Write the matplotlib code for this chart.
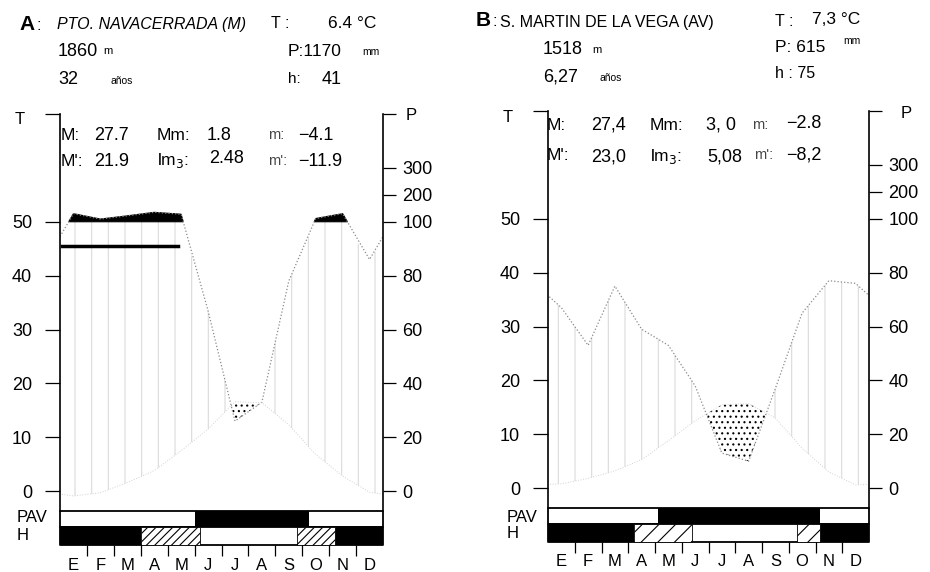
import numpy as np
import matplotlib.pyplot as plt

plt.rcParams['font.family'] = ['Liberation Sans', 'DejaVu Sans']
plt.rcParams['hatch.linewidth'] = 0.8

W, H = 930, 572

meses = ['E', 'F', 'M', 'A', 'M', 'J', 'J', 'A', 'S', 'O', 'N', 'D']

temp_a = [-0.9, -0.3, 1.6, 3.8, 7.5, 11.5, 16.6, 16.4, 12.3, 6.8, 2.8, -0.2]
prec_a = [130, 110, 122, 135, 128, 67, 26, 33, 78, 112, 130, 86]
pav_a = [(5.0, 9.25)]
helada_segura_a = [(0.0, 3.0), (10.2, 12.0)]
helada_prob_a = [(3.0, 5.2), (8.8, 10.2)]

# B: S. Martin de la Vega
temp_b = [0.8, 1.8, 3.2, 5.3, 8.8, 12.5, 15.5, 15.7, 13.0, 7.4, 3.0, 0.6]
prec_b = [67, 53, 75, 59, 53, 38, 13, 10, 37, 65, 77, 76]
pav_b = [(4.1, 10.15)]
helada_segura_b = [(0.0, 3.2), (10.15, 12.0)]
helada_prob_b = [(3.2, 5.4), (9.3, 10.15)]

ticks_t = [0, 10, 20, 30, 40, 50]
ticks_p = [0, 20, 40, 60, 80, 100, 200, 300]


def escala_p(p):
    # escala Walter-Lieth: 20 mm = 10 C, por encima de 100 mm reducida 1/10
    p = np.asarray(p, dtype=float)
    return np.where(p <= 100, p / 2, 50 + (p - 100) / 20)


fig = plt.figure(figsize=(W / 100, H / 100), dpi=100)


def txt(x, y, s, size=13, **kw):
    fig.text(x / W, 1 - y / H, s, fontsize=size, va='center', ha='left', **kw)


def panel(x0, y0, x1, y1, temp, prec, pav, h_seg, h_prob, trama):
    ax = fig.add_axes([x0 / W, 1 - y1 / H, (x1 - x0) / W, (y1 - y0) / H])
    ax.set_xlim(0, 12)
    ax.set_ylim(-10, 70)

    xm = np.arange(12) + 0.5
    xx = np.concatenate(([-0.5], xm, [12.5]))
    t = np.asarray(temp, dtype=float)
    t = np.concatenate(([t[-1]], t, [t[0]]))
    p = escala_p(prec)
    p = np.concatenate(([p[-1]], p, [p[0]]))
    pc = np.minimum(p, 50)

    # periodo humedo, periodo arido, periodo superhumedo
    ax.fill_between(xx, t, pc, where=pc > t, interpolate=True,
                    facecolor='none', edgecolor='#dadada', hatch='|', linewidth=0)
    ax.fill_between(xx, p, t, where=t > p, interpolate=True,
                    facecolor='white', edgecolor='black', hatch='...', linewidth=0)
    ax.fill_between(xx, 50, p, where=p > 50, interpolate=True,
                    color='black', linewidth=0.8)
    ax.plot(xx, p, color='#8a8a8a', lw=0.9, ls=':')
    ax.plot(xx, t, color='#d2d2d2', lw=0.7, ls=':')

    # barras PAV y H
    ax.broken_barh([(0, 12)], (-6.7, 3.1), facecolor='white',
                   edgecolor='black', lw=1.3, clip_on=False)
    ax.broken_barh([(a, b - a) for a, b in pav], (-6.7, 3.1),
                   facecolor='black', clip_on=False)
    ax.broken_barh([(0, 12)], (-10, 3.3), facecolor='white',
                   edgecolor='black', lw=1.3, clip_on=False)
    ax.broken_barh([(a, b - a) for a, b in h_seg], (-10, 3.3),
                   facecolor='black', clip_on=False)
    ax.broken_barh([(a, b - a) for a, b in h_prob], (-10, 3.3),
                   facecolor='white', edgecolor='black', hatch=trama,
                   lw=0.6, clip_on=False)

    for s in ['top', 'bottom', 'right']:
        ax.spines[s].set_visible(False)
    ax.spines['left'].set_bounds(-3.6, 70)
    ax.spines['left'].set_linewidth(1.2)
    ax.set_yticks(ticks_t + [70])
    ax.set_yticklabels([str(v) for v in ticks_t] + [''])
    ax.tick_params(axis='y', direction='out', length=11, width=0.9,
                   pad=9, labelsize=13)

    ax.set_xticks(range(1, 12))
    ax.set_xticklabels([])
    ax.set_xticks(xm, minor=True)
    ax.set_xticklabels(meses, minor=True)
    ax.tick_params(axis='x', which='major', direction='out', length=8, width=0.9)
    ax.tick_params(axis='x', which='minor', length=0, pad=9, labelsize=12)

    axr = ax.twinx()
    axr.set_ylim(-10, 70)
    for s in ['top', 'bottom', 'left']:
        axr.spines[s].set_visible(False)
    axr.spines['right'].set_bounds(-3.6, 70)
    axr.spines['right'].set_linewidth(1.2)
    axr.set_yticks(list(escala_p(ticks_p)) + [70])
    axr.set_yticklabels([str(v) for v in ticks_p] + [''])
    axr.tick_params(axis='y', direction='out', length=9, width=0.9,
                    pad=5, labelsize=13)
    return ax


# ---- Diagrama A ----
ax_a = panel(60, 114, 383, 545, temp_a, prec_a, pav_a,
             helada_segura_a, helada_prob_a, '////')
ax_a.plot([0.07, 4.37], [45.5, 45.5], color='black', lw=2.5)

txt(19, 24, 'A', 15, fontweight='bold')
txt(36, 25, ':', 12)
txt(57, 25, 'PTO. NAVACERRADA (M)', 11.5, style='italic')
txt(271, 24, 'T :', 11.5)
txt(328, 24, '6.4 °C', 12.5)
txt(58, 52, '1860', 13)
txt(103, 51, 'm', 8)
txt(288, 52, 'P:1170', 12.5)
txt(362, 52, 'mm', 7.5)
txt(58, 80, '32', 13)
txt(110, 81, 'años', 7.5)
txt(288, 79, 'h:', 11)
txt(322, 80, '41', 13)

txt(15, 120, 'T', 12)
txt(406, 116, 'P', 12)
txt(61, 135, 'M:', 12.5)
txt(94, 135, '27.7', 13)
txt(157, 135, 'Mm:', 12.5)
txt(207, 135, '1.8', 13)
txt(268, 135, 'm:', 10.5, color='#444444')
txt(298, 135, '−4.1', 13)
txt(61, 161, "M':", 12.5)
txt(94, 161, '21.9', 13)
txt(157, 161, 'lm$_3$:', 12.5)
txt(209, 159, '2.48', 13)
txt(268, 161, "m':", 10.5, color='#444444')
txt(298, 161, '−11.9', 13)

txt(17, 518, 'PAV', 12)
txt(17, 536, 'H', 12)

# ---- Diagrama B ----
ax_b = panel(548, 111, 869, 542, temp_b, prec_b, pav_b,
             helada_segura_b, helada_prob_b, '//')

txt(476, 21, 'B', 15, fontweight='bold')
txt(492, 22, ':', 12)
txt(500, 22, 'S. MARTIN DE LA VEGA (AV)', 11.5)
txt(775, 21, 'T :', 11.5)
txt(812, 20, '7,3 °C', 12.5)
txt(543, 49, '1518', 13)
txt(592, 50, 'm', 8)
txt(775, 47, 'P: 615', 12.5)
txt(843, 41, 'mm', 7.5)
txt(543, 77, '6,27', 13)
txt(600, 78, 'años', 7.5)
txt(775, 73, 'h : 75', 11.5)

txt(503, 118, 'T', 12)
txt(901, 114, 'P', 12)
txt(547, 125, 'M:', 12.5)
txt(591, 125, '27,4', 13)
txt(650, 125, 'Mm:', 12.5)
txt(706, 125, '3, 0', 13)
txt(752, 125, 'm:', 10.5, color='#444444')
txt(786, 123, '−2.8', 13)
txt(547, 155, "M':", 12.5)
txt(591, 157, '23,0', 13)
txt(650, 157, 'lm$_3$:', 12.5)
txt(707, 157, '5,08', 13)
txt(754, 155, "m':", 10.5, color='#444444')
txt(786, 155, '−8,2', 13)

txt(507, 517, 'PAV', 12)
txt(507, 534, 'H', 12)

fig.savefig('out.png', dpi=100)
